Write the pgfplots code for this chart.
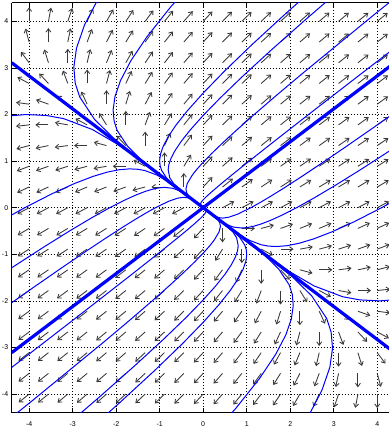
\documentclass[border=0pt]{standalone}
\usepackage{pgfplots}
\pgfplotsset{compat=1.18}
\usepackage{pgfplotstable}
\usepackage{fontspec}
\setmainfont{Liberation Sans}
\usetikzlibrary{arrows.meta}

% Direction field of x' = x + y, y' = x/2 + y on a 19x19 grid.
% Columns i, j are grid indices (grid spacing 4/9), u, v the (unscaled) direction.
\pgfplotstableread[row sep=\\]{
i j u v \\
-9 -9 -36 -27 \\ -9 -8 -34 -25 \\ -9 -7 -32 -23 \\ -9 -6 -30 -21 \\ -9 -5 -28 -19 \\ -9 -4 -26 -17 \\ -9 -3 -24 -15 \\ -9 -2 -22 -13 \\ -9 -1 -20 -11 \\ -9 0 -18 -9 \\ -9 1 -16 -7 \\ -9 2 -14 -5 \\ -9 3 -12 -3 \\ -9 4 -10 -1 \\ -9 5 -8 1 \\ -9 6 -6 3 \\ -9 7 -4 5 \\ -9 8 -2 7 \\ -9 9 0 9 \\
-8 -9 -34 -26 \\ -8 -8 -32 -24 \\ -8 -7 -30 -22 \\ -8 -6 -28 -20 \\ -8 -5 -26 -18 \\ -8 -4 -24 -16 \\ -8 -3 -22 -14 \\ -8 -2 -20 -12 \\ -8 -1 -18 -10 \\ -8 0 -16 -8 \\ -8 1 -14 -6 \\ -8 2 -12 -4 \\ -8 3 -10 -2 \\ -8 4 -8 0 \\ -8 5 -6 2 \\ -8 6 -4 4 \\ -8 7 -2 6 \\ -8 8 0 8 \\ -8 9 2 10 \\
-7 -9 -32 -25 \\ -7 -8 -30 -23 \\ -7 -7 -28 -21 \\ -7 -6 -26 -19 \\ -7 -5 -24 -17 \\ -7 -4 -22 -15 \\ -7 -3 -20 -13 \\ -7 -2 -18 -11 \\ -7 -1 -16 -9 \\ -7 0 -14 -7 \\ -7 1 -12 -5 \\ -7 2 -10 -3 \\ -7 3 -8 -1 \\ -7 4 -6 1 \\ -7 5 -4 3 \\ -7 6 -2 5 \\ -7 7 0 7 \\ -7 8 2 9 \\ -7 9 4 11 \\
-6 -9 -30 -24 \\ -6 -8 -28 -22 \\ -6 -7 -26 -20 \\ -6 -6 -24 -18 \\ -6 -5 -22 -16 \\ -6 -4 -20 -14 \\ -6 -3 -18 -12 \\ -6 -2 -16 -10 \\ -6 -1 -14 -8 \\ -6 0 -12 -6 \\ -6 1 -10 -4 \\ -6 2 -8 -2 \\ -6 3 -6 0 \\ -6 4 -4 2 \\ -6 5 -2 4 \\ -6 6 0 6 \\ -6 7 2 8 \\ -6 8 4 10 \\ -6 9 6 12 \\
-5 -9 -28 -23 \\ -5 -8 -26 -21 \\ -5 -7 -24 -19 \\ -5 -6 -22 -17 \\ -5 -5 -20 -15 \\ -5 -4 -18 -13 \\ -5 -3 -16 -11 \\ -5 -2 -14 -9 \\ -5 -1 -12 -7 \\ -5 0 -10 -5 \\ -5 1 -8 -3 \\ -5 2 -6 -1 \\ -5 3 -4 1 \\ -5 4 -2 3 \\ -5 5 0 5 \\ -5 6 2 7 \\ -5 7 4 9 \\ -5 8 6 11 \\ -5 9 8 13 \\
-4 -9 -26 -22 \\ -4 -8 -24 -20 \\ -4 -7 -22 -18 \\ -4 -6 -20 -16 \\ -4 -5 -18 -14 \\ -4 -4 -16 -12 \\ -4 -3 -14 -10 \\ -4 -2 -12 -8 \\ -4 -1 -10 -6 \\ -4 0 -8 -4 \\ -4 1 -6 -2 \\ -4 2 -4 0 \\ -4 3 -2 2 \\ -4 4 0 4 \\ -4 5 2 6 \\ -4 6 4 8 \\ -4 7 6 10 \\ -4 8 8 12 \\ -4 9 10 14 \\
-3 -9 -24 -21 \\ -3 -8 -22 -19 \\ -3 -7 -20 -17 \\ -3 -6 -18 -15 \\ -3 -5 -16 -13 \\ -3 -4 -14 -11 \\ -3 -3 -12 -9 \\ -3 -2 -10 -7 \\ -3 -1 -8 -5 \\ -3 0 -6 -3 \\ -3 1 -4 -1 \\ -3 2 -2 1 \\ -3 3 0 3 \\ -3 4 2 5 \\ -3 5 4 7 \\ -3 6 6 9 \\ -3 7 8 11 \\ -3 8 10 13 \\ -3 9 12 15 \\
-2 -9 -22 -20 \\ -2 -8 -20 -18 \\ -2 -7 -18 -16 \\ -2 -6 -16 -14 \\ -2 -5 -14 -12 \\ -2 -4 -12 -10 \\ -2 -3 -10 -8 \\ -2 -2 -8 -6 \\ -2 -1 -6 -4 \\ -2 0 -4 -2 \\ -2 1 -2 0 \\ -2 2 0 2 \\ -2 3 2 4 \\ -2 4 4 6 \\ -2 5 6 8 \\ -2 6 8 10 \\ -2 7 10 12 \\ -2 8 12 14 \\ -2 9 14 16 \\
-1 -9 -20 -19 \\ -1 -8 -18 -17 \\ -1 -7 -16 -15 \\ -1 -6 -14 -13 \\ -1 -5 -12 -11 \\ -1 -4 -10 -9 \\ -1 -3 -8 -7 \\ -1 -2 -6 -5 \\ -1 -1 -4 -3 \\ -1 0 -2 -1 \\ -1 1 0 1 \\ -1 2 2 3 \\ -1 3 4 5 \\ -1 4 6 7 \\ -1 5 8 9 \\ -1 6 10 11 \\ -1 7 12 13 \\ -1 8 14 15 \\ -1 9 16 17 \\
0 -9 -18 -18 \\ 0 -8 -16 -16 \\ 0 -7 -14 -14 \\ 0 -6 -12 -12 \\ 0 -5 -10 -10 \\ 0 -4 -8 -8 \\ 0 -3 -6 -6 \\ 0 -2 -4 -4 \\ 0 -1 -2 -2 \\ 0 1 2 2 \\ 0 2 4 4 \\ 0 3 6 6 \\ 0 4 8 8 \\ 0 5 10 10 \\ 0 6 12 12 \\ 0 7 14 14 \\ 0 8 16 16 \\ 0 9 18 18 \\
1 -9 -16 -17 \\ 1 -8 -14 -15 \\ 1 -7 -12 -13 \\ 1 -6 -10 -11 \\ 1 -5 -8 -9 \\ 1 -4 -6 -7 \\ 1 -3 -4 -5 \\ 1 -2 -2 -3 \\ 1 -1 0 -1 \\ 1 0 2 1 \\ 1 1 4 3 \\ 1 2 6 5 \\ 1 3 8 7 \\ 1 4 10 9 \\ 1 5 12 11 \\ 1 6 14 13 \\ 1 7 16 15 \\ 1 8 18 17 \\ 1 9 20 19 \\
2 -9 -14 -16 \\ 2 -8 -12 -14 \\ 2 -7 -10 -12 \\ 2 -6 -8 -10 \\ 2 -5 -6 -8 \\ 2 -4 -4 -6 \\ 2 -3 -2 -4 \\ 2 -2 0 -2 \\ 2 -1 2 0 \\ 2 0 4 2 \\ 2 1 6 4 \\ 2 2 8 6 \\ 2 3 10 8 \\ 2 4 12 10 \\ 2 5 14 12 \\ 2 6 16 14 \\ 2 7 18 16 \\ 2 8 20 18 \\ 2 9 22 20 \\
3 -9 -12 -15 \\ 3 -8 -10 -13 \\ 3 -7 -8 -11 \\ 3 -6 -6 -9 \\ 3 -5 -4 -7 \\ 3 -4 -2 -5 \\ 3 -3 0 -3 \\ 3 -2 2 -1 \\ 3 -1 4 1 \\ 3 0 6 3 \\ 3 1 8 5 \\ 3 2 10 7 \\ 3 3 12 9 \\ 3 4 14 11 \\ 3 5 16 13 \\ 3 6 18 15 \\ 3 7 20 17 \\ 3 8 22 19 \\ 3 9 24 21 \\
4 -9 -10 -14 \\ 4 -8 -8 -12 \\ 4 -7 -6 -10 \\ 4 -6 -4 -8 \\ 4 -5 -2 -6 \\ 4 -4 0 -4 \\ 4 -3 2 -2 \\ 4 -2 4 0 \\ 4 -1 6 2 \\ 4 0 8 4 \\ 4 1 10 6 \\ 4 2 12 8 \\ 4 3 14 10 \\ 4 4 16 12 \\ 4 5 18 14 \\ 4 6 20 16 \\ 4 7 22 18 \\ 4 8 24 20 \\ 4 9 26 22 \\
5 -9 -8 -13 \\ 5 -8 -6 -11 \\ 5 -7 -4 -9 \\ 5 -6 -2 -7 \\ 5 -5 0 -5 \\ 5 -4 2 -3 \\ 5 -3 4 -1 \\ 5 -2 6 1 \\ 5 -1 8 3 \\ 5 0 10 5 \\ 5 1 12 7 \\ 5 2 14 9 \\ 5 3 16 11 \\ 5 4 18 13 \\ 5 5 20 15 \\ 5 6 22 17 \\ 5 7 24 19 \\ 5 8 26 21 \\ 5 9 28 23 \\
6 -9 -6 -12 \\ 6 -8 -4 -10 \\ 6 -7 -2 -8 \\ 6 -6 0 -6 \\ 6 -5 2 -4 \\ 6 -4 4 -2 \\ 6 -3 6 0 \\ 6 -2 8 2 \\ 6 -1 10 4 \\ 6 0 12 6 \\ 6 1 14 8 \\ 6 2 16 10 \\ 6 3 18 12 \\ 6 4 20 14 \\ 6 5 22 16 \\ 6 6 24 18 \\ 6 7 26 20 \\ 6 8 28 22 \\ 6 9 30 24 \\
7 -9 -4 -11 \\ 7 -8 -2 -9 \\ 7 -7 0 -7 \\ 7 -6 2 -5 \\ 7 -5 4 -3 \\ 7 -4 6 -1 \\ 7 -3 8 1 \\ 7 -2 10 3 \\ 7 -1 12 5 \\ 7 0 14 7 \\ 7 1 16 9 \\ 7 2 18 11 \\ 7 3 20 13 \\ 7 4 22 15 \\ 7 5 24 17 \\ 7 6 26 19 \\ 7 7 28 21 \\ 7 8 30 23 \\ 7 9 32 25 \\
8 -9 -2 -10 \\ 8 -8 0 -8 \\ 8 -7 2 -6 \\ 8 -6 4 -4 \\ 8 -5 6 -2 \\ 8 -4 8 0 \\ 8 -3 10 2 \\ 8 -2 12 4 \\ 8 -1 14 6 \\ 8 0 16 8 \\ 8 1 18 10 \\ 8 2 20 12 \\ 8 3 22 14 \\ 8 4 24 16 \\ 8 5 26 18 \\ 8 6 28 20 \\ 8 7 30 22 \\ 8 8 32 24 \\ 8 9 34 26 \\
9 -9 0 -9 \\ 9 -8 2 -7 \\ 9 -7 4 -5 \\ 9 -6 6 -3 \\ 9 -5 8 -1 \\ 9 -4 10 1 \\ 9 -3 12 3 \\ 9 -2 14 5 \\ 9 -1 16 7 \\ 9 0 18 9 \\ 9 1 20 11 \\ 9 2 22 13 \\ 9 3 24 15 \\ 9 4 26 17 \\ 9 5 28 19 \\ 9 6 30 21 \\ 9 7 32 23 \\ 9 8 34 25 \\ 9 9 36 27 \\
}\field

\pgfplotsset{
  frame/.style={scale only axis, width=377.3bp, height=410bp, clip=true},
  traj/.style={blue, line width=1bp},
  eig/.style={blue, line width=3.2bp},
}

\begin{document}
\begin{tikzpicture}
\useasboundingbox (-11.7bp,-19.3bp) rectangle (377.3bp,412.7bp);

% frame, grid and direction field (grid-index units: 9/4 per unit of x and y)
\begin{axis}[frame,
  xmin=-9.9, xmax=9.6075, ymin=-9.9, ymax=9.9,
  axis x line=box, axis y line=left,
  axis line style={-, black, line width=0.8bp},
  xtick={-9,-6.75,-4.5,-2.25,0,2.25,4.5,6.75,9},
  ytick={-9,-6.75,-4.5,-2.25,0,2.25,4.5,6.75,9},
  xticklabels={-4,-3,-2,-1,0,1,2,3,4},
  yticklabels={-4,-3,-2,-1,0,1,2,3,4},
  tick align=inside, major tick length=5bp,
  tick style={black, line width=0.6bp},
  grid=major,
  grid style={black, line width=0.65bp, dash pattern=on 0.65bp off 2.35bp},
  ticklabel style={font=\fontsize{7}{8}\selectfont},
  xticklabel style={yshift=-5.5bp},
]
% arrows of equal length (0.3 units of x and y), pointing along (u, v)
\addplot[black!78, line width=0.85bp, -{Straight Barb[length=3.4bp,width=5bp]},
  quiver={u={0.675*cos(atan2(\thisrow{v},\thisrow{u}))},
          v={0.675*sin(atan2(\thisrow{v},\thisrow{u}))}}]
  table {\field};
\end{axis}

% trajectories and the two straight-line solutions
\begin{axis}[frame, hide axis, xmin=-4.4, xmax=4.27, ymin=-4.4, ymax=4.4]
\addplot[eig] coordinates {(-4.4,-3.1113) (4.4,3.1113)};
\addplot[eig] coordinates {(-4.4,3.1113) (4.4,-3.1113)};

% upper wedge
\addplot[traj] coordinates {(0,0) (-0.517,0.3655) (-1.0335,0.7316) (-1.5463,1.1002) (-2.0432,1.4797) (-2.494,1.8922) (-2.8388,2.3798) (-2.9407,2.6729) (-2.9722,3.0162) (-2.9107,3.4256) (-2.7277,3.9204) (-2.3896,4.5253)};
\addplot[traj] coordinates {(0,0) (-0.7196,0.5094) (-1.4227,1.0303) (-1.7366,1.3176) (-1.9768,1.6571) (-2.0477,1.8612) (-2.0696,2.1002) (-2.0268,2.3854) (-1.8994,2.7299) (-1.6639,3.1511) (-1.2920,3.6684) (-0.7502,4.3060) (0,5.0911)};
\addplot[traj] coordinates {(0,0) (-0.5204,0.3703) (-0.6876,0.4980) (-0.8394,0.6368) (-0.9554,0.8009) (-0.9897,0.8996) (-1.0003,1.0151) (-0.9796,1.1529) (-0.9180,1.3194) (-0.8042,1.5230) (-0.6245,1.7731) (-0.3626,2.0812) (0,2.4607) (0.4853,2.9269) (1.1185,3.4977) (1.9283,4.1932) (2.9474,5.0370)};
\addplot[traj] coordinates {(0,0) (-0.4187,0.2979) (-0.6754,0.5124) (-0.7687,0.6444) (-0.8049,0.8168) (-0.7882,0.9276) (-0.7386,1.0616) (-0.6471,1.2254) (-0.5025,1.4266) (-0.2918,1.6745) (0,1.9799) (0.3905,2.3549) (0.8999,2.8143) (1.5515,3.3739) (2.3715,4.0527) (3.3894,4.8716)};
\addplot[traj] coordinates {(0,0) (-0.2064,0.1468) (-0.3329,0.2525) (-0.3789,0.3176) (-0.3967,0.4025) (-0.3640,0.5232) (-0.2476,0.7031) (-0.1438,0.8253) (0,0.9758) (0.1924,1.1606) (0.4435,1.3870) (0.7647,1.6628) (1.1688,1.9974) (1.6705,2.4010) (2.2869,2.8856) (3.9378,4.1506) (6.2969,5.9163)};
\addplot[traj] coordinates {(0,0) (-0.0579,0.0439) (-0.0690,0.0700) (-0.0431,0.1223) (0,0.1697) (0.0771,0.2412) (0.2033,0.3474) (0.3977,0.5019) (0.6848,0.7218) (1.0951,1.0289) (1.6654,1.4491) (2.4396,2.0135) (3.474,2.7619) (4.8288,3.7369)};
% lower wedge (point reflections)
\addplot[traj] coordinates {(0,0) (0.517,-0.3655) (1.0335,-0.7316) (1.5463,-1.1002) (2.0432,-1.4797) (2.494,-1.8922) (2.8388,-2.3798) (2.9407,-2.6729) (2.9722,-3.0162) (2.9107,-3.4256) (2.7277,-3.9204) (2.3896,-4.5253)};
\addplot[traj] coordinates {(0,0) (0.7196,-0.5094) (1.4227,-1.0303) (1.7366,-1.3176) (1.9768,-1.6571) (2.0477,-1.8612) (2.0696,-2.1002) (2.0268,-2.3854) (1.8994,-2.7299) (1.6639,-3.1511) (1.2920,-3.6684) (0.7502,-4.3060) (0,-5.0911)};
\addplot[traj] coordinates {(0,0) (0.5204,-0.3703) (0.6876,-0.4980) (0.8394,-0.6368) (0.9554,-0.8009) (0.9897,-0.8996) (1.0003,-1.0151) (0.9796,-1.1529) (0.9180,-1.3194) (0.8042,-1.5230) (0.6245,-1.7731) (0.3626,-2.0812) (0,-2.4607) (-0.4853,-2.9269) (-1.1185,-3.4977) (-1.9283,-4.1932) (-2.9474,-5.0370)};
\addplot[traj] coordinates {(0,0) (0.4187,-0.2979) (0.6754,-0.5124) (0.7687,-0.6444) (0.8049,-0.8168) (0.7882,-0.9276) (0.7386,-1.0616) (0.6471,-1.2254) (0.5025,-1.4266) (0.2918,-1.6745) (0,-1.9799) (-0.3905,-2.3549) (-0.8999,-2.8143) (-1.5515,-3.3739) (-2.3715,-4.0527) (-3.3894,-4.8716)};
\addplot[traj] coordinates {(0,0) (0.2064,-0.1468) (0.3329,-0.2525) (0.3789,-0.3176) (0.3967,-0.4025) (0.3640,-0.5232) (0.2476,-0.7031) (0.1438,-0.8253) (0,-0.9758) (-0.1924,-1.1606) (-0.4435,-1.3870) (-0.7647,-1.6628) (-1.1688,-1.9974) (-1.6705,-2.4010) (-2.2869,-2.8856) (-3.9378,-4.1506) (-6.2969,-5.9163)};
\addplot[traj] coordinates {(0,0) (0.0579,-0.0439) (0.0690,-0.0700) (0.0431,-0.1223) (0,-0.1697) (-0.0771,-0.2412) (-0.2033,-0.3474) (-0.3977,-0.5019) (-0.6848,-0.7218) (-1.0951,-1.0289) (-1.6654,-1.4491) (-2.4396,-2.0135) (-3.474,-2.7619) (-4.8288,-3.7369)};

% left wedge
\addplot[traj] coordinates {(0,0) (-0.9845,0.6957) (-1.4804,1.0406) (-1.9916,1.3746) (-2.5466,1.6782) (-3.2024,1.9104) (-3.5975,1.9788) (-4.0595,2.0000) (-4.6100,1.9587) (-5.2762,1.8357)};
\addplot[traj] coordinates {(0,0) (-0.6168,0.4336) (-0.8298,0.5728) (-1.0611,0.6993) (-1.3343,0.7960) (-1.4990,0.8245) (-1.6915,0.8333) (-1.9209,0.8161) (-2.1984,0.7649) (-2.5375,0.6699) (-2.9543,0.5203) (-3.4678,0.3022) (-4.1,0) (-4.8767,-0.4043) (-5.8277,-0.9317)};
\addplot[traj] coordinates {(0,0) (-0.3229,0.2269) (-0.4344,0.2998) (-0.5554,0.3660) (-0.6984,0.4166) (-0.8853,0.4362) (-1.0054,0.4272) (-1.1507,0.4003) (-1.3282,0.3507) (-1.5463,0.2723) (-1.8151,0.1582) (-2.146,0) (-2.5526,-0.2116) (-3.0503,-0.4877) (-3.6570,-0.8408) (-4.3928,-1.2852) (-6.3462,-2.5147)};
\addplot[traj] coordinates {(0,0) (-0.1649,0.1159) (-0.2836,0.1869) (-0.3567,0.2128) (-0.4522,0.2228) (-0.5877,0.2045) (-0.7897,0.1391) (-1.096,0) (-1.3036,-0.1081) (-1.5579,-0.2491) (-1.8677,-0.4294) (-2.2435,-0.6564) (-2.6967,-0.9381) (-3.2411,-1.2843) (-3.8903,-1.7046) (-4.6618,-2.2114) (-6.6450,-3.5362)};
% right wedge (point reflections)
\addplot[traj] coordinates {(0,0) (0.9845,-0.6957) (1.4804,-1.0406) (1.9916,-1.3746) (2.5466,-1.6782) (3.2024,-1.9104) (3.5975,-1.9788) (4.0595,-2.0000) (4.6100,-1.9587) (5.2762,-1.8357)};
\addplot[traj] coordinates {(0,0) (0.6168,-0.4336) (0.8298,-0.5728) (1.0611,-0.6993) (1.3343,-0.7960) (1.4990,-0.8245) (1.6915,-0.8333) (1.9209,-0.8161) (2.1984,-0.7649) (2.5375,-0.6699) (2.9543,-0.5203) (3.4678,-0.3022) (4.1,0) (4.8767,0.4043) (5.8277,0.9317)};
\addplot[traj] coordinates {(0,0) (0.3229,-0.2269) (0.4344,-0.2998) (0.5554,-0.3660) (0.6984,-0.4166) (0.8853,-0.4362) (1.0054,-0.4272) (1.1507,-0.4003) (1.3282,-0.3507) (1.5463,-0.2723) (1.8151,-0.1582) (2.146,0) (2.5526,0.2116) (3.0503,0.4877) (3.6570,0.8408) (4.3928,1.2852) (6.3462,2.5147)};
\addplot[traj] coordinates {(0,0) (0.1649,-0.1159) (0.2836,-0.1869) (0.3567,-0.2128) (0.4522,-0.2228) (0.5877,-0.2045) (0.7897,-0.1391) (1.096,0) (1.3036,0.1081) (1.5579,0.2491) (1.8677,0.4294) (2.2435,0.6564) (2.6967,0.9381) (3.2411,1.2843) (3.8903,1.7046) (4.6618,2.2114) (6.6450,3.5362)};
\end{axis}
\end{tikzpicture}
\end{document}
